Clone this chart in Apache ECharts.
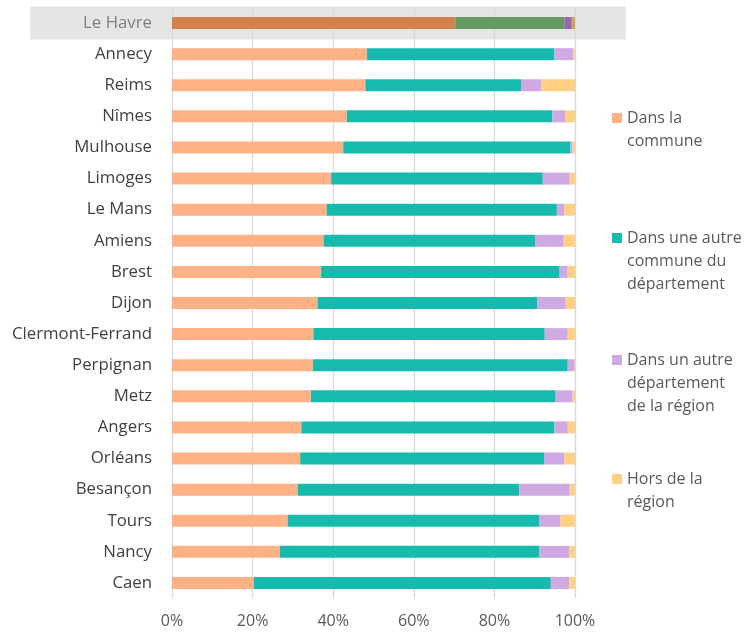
<!DOCTYPE html>
<html>
<head>
<meta charset="utf-8">
<script src="https://cdn.jsdelivr.net/npm/echarts@6/dist/echarts.min.js"></script>
<style>
  html, body { margin: 0; padding: 0; background: #ffffff; }
  #chart { width: 749px; height: 635px; }
</style>
</head>
<body>
<div id="chart"></div>
<script>
// Lieu de résidence des actifs travaillant dans chaque ville (répartition en %)
const categories = ['Le Havre', 'Annecy', 'Reims', 'Nîmes', 'Mulhouse', 'Limoges', 'Le Mans', 'Amiens', 'Brest', 'Dijon',
  'Clermont-Ferrand', 'Perpignan', 'Metz', 'Angers', 'Orléans', 'Besançon', 'Tours', 'Nancy', 'Caen'];

const dansCommune  = [70.3, 48.4, 48.0, 43.4, 42.5, 39.5, 38.4, 37.6, 37.0, 36.1, 35.1, 35.0, 34.5, 32.1, 31.8, 31.2, 28.7, 26.8, 20.3];
const autreCommune = [27.1, 46.5, 38.6, 51.0, 56.4, 52.5, 57.1, 52.6, 59.2, 54.6, 57.4, 63.2, 60.7, 62.8, 60.5, 55.0, 62.5, 64.4, 73.7];
const autreDept    = [1.8, 4.7, 5.1, 3.2, 0.5, 6.7, 1.8, 7.0, 2.0, 7.0, 5.7, 1.7, 4.2, 3.3, 5.0, 12.5, 5.2, 7.4, 4.6];
const horsRegion   = [0.8, 0.4, 8.3, 2.4, 0.6, 1.3, 2.7, 2.8, 1.8, 2.3, 1.8, 0.1, 0.6, 1.8, 2.7, 1.3, 3.6, 1.4, 1.4];

const xTicks = [0, 20, 40, 60, 80, 100];

const seriesNames = ['Dans la commune', 'Dans une autre commune du département',
  'Dans un autre département de la région', 'Hors de la région'];
const legendLabels = ['Dans la\ncommune', 'Dans une autre\ncommune du\ndépartement',
  'Dans un autre\ndépartement\nde la région', 'Hors de la\nrégion'];

const highlighted = 'Le Havre';
const colors = ['#FEB184', '#17BBAD', '#CEA9E3', '#FFD084'];
const highlightColors = ['#D4824C', '#669A63', '#9966B4', '#D2A549'];

const FONT = 'Open Sans';
const LINE_H = 23;
const legendCenters = [118, 238, 360, 479];

const chart = echarts.init(document.getElementById('chart'), null, { renderer: 'canvas' });

const valueSets = [dansCommune, autreCommune, autreDept, horsRegion];

const series = valueSets.map((vals, i) => ({
  name: seriesNames[i],
  type: 'bar',
  stack: 'total',
  barWidth: 12,
  itemStyle: { color: colors[i] },
  data: vals.map((v, k) => categories[k] === highlighted
    ? { value: v, itemStyle: { color: highlightColors[i] } }
    : v)
}));

// Each legend entry: square aligned with the first text line.
// The text block is vertically centred on the square, so blank lines are
// prepended to push the first real line onto the square's centre.
const legends = seriesNames.map((name, i) => {
  const n = legendLabels[i].split('\n').length;
  const boxH = (2 * n - 1) * LINE_H;
  const label = '\n'.repeat(n - 1) + legendLabels[i];
  return {
    orient: 'vertical',
    left: 612,
    top: legendCenters[i] - boxH / 2,
    padding: 0,
    itemWidth: 10,
    itemHeight: 10,
    icon: 'rect',
    selectedMode: false,
    data: [name],
    formatter: () => label,
    textStyle: {
      fontFamily: FONT,
      fontSize: 16,
      color: '#595959',
      lineHeight: LINE_H
    }
  };
});

chart.setOption({
  animation: false,
  backgroundColor: '#ffffff',
  textStyle: { fontFamily: FONT },
  grid: { left: 172, right: 174, top: 7.5, bottom: 36.5, containLabel: false },
  legend: legends,
  xAxis: {
    type: 'value',
    min: xTicks[0],
    max: xTicks[xTicks.length - 1],
    interval: 20,
    axisLine: { show: false },
    axisTick: { show: false },
    splitLine: { show: true, lineStyle: { color: '#D9D9D9', width: 1.3 } },
    axisLabel: {
      formatter: '{value}%',
      fontFamily: FONT,
      fontSize: 16,
      color: '#595959',
      margin: 15
    }
  },
  yAxis: {
    type: 'category',
    inverse: true,
    data: categories,
    axisLine: { show: false },
    axisTick: { show: false },
    axisLabel: {
      fontFamily: FONT,
      fontSize: 16.8,
      margin: 20,
      color: (val) => (val === highlighted ? '#808080' : '#404040')
    }
  },
  series: series
});

// Grey band behind the highlighted city row
const yc = chart.convertToPixel({ yAxisIndex: 0 }, highlighted);
chart.setOption({
  graphic: [{
    type: 'rect',
    z: -10,
    silent: true,
    shape: { x: 30, y: yc - 16.5, width: 596, height: 33 },
    style: { fill: '#E5E5E5' }
  }]
});
</script>
</body>
</html>
